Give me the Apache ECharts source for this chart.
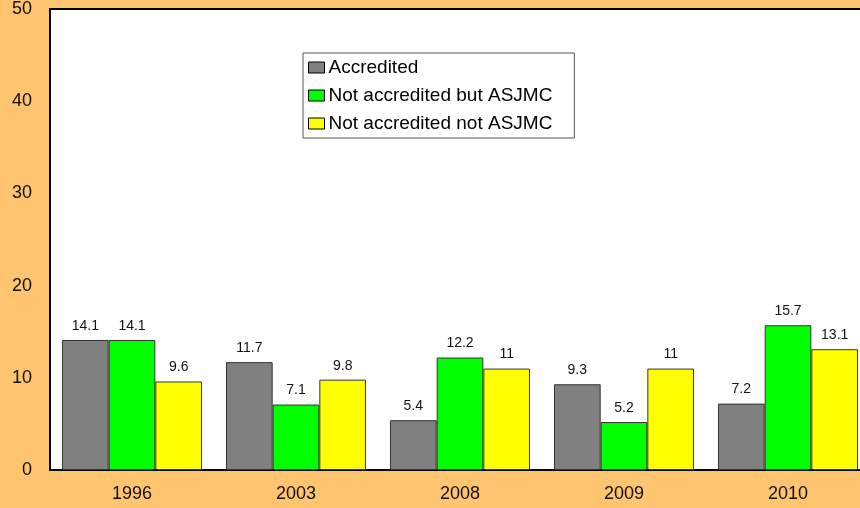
<!DOCTYPE html>
<html><head><meta charset="utf-8">
<script src="https://cdn.jsdelivr.net/npm/echarts@6/dist/echarts.min.js"></script>
<style>html,body{margin:0;padding:0;background:#FFC470;overflow:hidden;width:860px;height:508px;}#c{width:872px;height:508px;}</style>
</head><body><div id="c"></div>
<script>
const categories = ['1996','2003','2008','2009','2010'];
const accredited = [14.1, 11.7, 5.4, 9.3, 7.2];
const notAccButAsjmc = [14.1, 7.1, 12.2, 5.2, 15.7];
const notAccNotAsjmc = [9.6, 9.8, 11, 11, 13.1];
const seriesNames = ['Accredited','Not accredited but ASJMC','Not accredited not ASJMC'];
const yTicks = [0, 10, 20, 30, 40, 50];

const chart = echarts.init(document.getElementById('c'), null, {renderer:'canvas'});
const font = 'Liberation Sans, Arial, sans-serif';
function mk(name, data, color){
  return {name, type:'bar', data, barGap:0, barCategoryGap:'14.6%',
    itemStyle:{color, borderColor:'#333', borderWidth:1},
    label:{show:true, position:'top', distance:7, color:'#111', fontFamily:font, fontSize:14},
    animation:false};
}
chart.setOption({
  backgroundColor:'#FFC470',
  animation:false,
  grid:{left:50, top:7, right:2, bottom:38, show:true, backgroundColor:'#fff', borderColor:'#000', borderWidth:2},
  legend:{left:303, top:53, orient:'vertical', itemWidth:16, itemHeight:11, itemGap:9,
    borderColor:'#555', borderWidth:1, backgroundColor:'#fff', padding:[5,22,5,5],
    textStyle:{fontFamily:font, fontSize:19, lineHeight:19, color:'#000', padding:[0,0,0,-1]},
    data:seriesNames, icon:'rect',
    itemStyle:{borderColor:'#000', borderWidth:1}},
  xAxis:{type:'category', data:categories,
    axisLine:{lineStyle:{color:'#000', width:2}}, axisTick:{show:false},
    axisLabel:{fontFamily:font, fontSize:18, color:'#111', margin:15}},
  yAxis:{type:'value', min:0, max:50, interval:10,
    axisLine:{show:false}, axisTick:{show:false}, splitLine:{show:false},
    axisLabel:{fontFamily:font, fontSize:18, color:'#111', margin:18,
      formatter:v=>yTicks.includes(v)?String(v):''}},
  series:[mk(seriesNames[0], accredited, '#808080'),
          mk(seriesNames[1], notAccButAsjmc, '#00FF00'),
          mk(seriesNames[2], notAccNotAsjmc, '#FFFF00')]
});
</script></body></html>
